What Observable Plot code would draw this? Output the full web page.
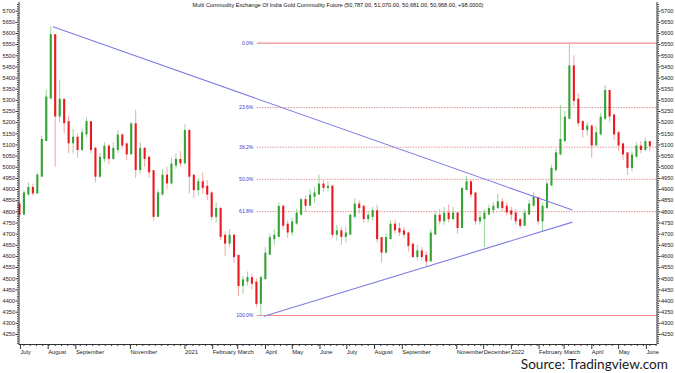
<!DOCTYPE html>
<html><head><meta charset="utf-8">
<script src="https://cdn.jsdelivr.net/npm/d3@7"></script>
<script src="https://cdn.jsdelivr.net/npm/@observablehq/plot@0.6"></script>
<style>
html,body{margin:0;padding:0;background:#fff}
body{width:675px;height:373px;overflow:hidden;position:relative;font-family:"Liberation Sans",Arial,sans-serif}
#source{position:absolute;right:7px;top:356px;font-family:Lato,sans-serif;font-size:13.6px;line-height:16px;color:#1a1a1a;white-space:nowrap}
</style></head><body>
<div id="chart"></div>
<div id="source">Source: Tradingview.com</div>
<script>
// ---- data (one candle per ~5 calendar days) ----
const startDate = "2020-07-01";
const stepDays = 5;
const firstOpen = 4830;
const closes = [4790,4880,4905,4885,4960,5120,5310,5590,5230,5300,5200,5110,5130,5080,5150,5200,5080,4960,5040,5090,
  5040,5080,5140,5100,5060,5190,4990,5080,5040,4980,4780,4880,4960,4930,5010,5030,5020,5160,4960,4900,
  4930,4910,4880,4780,4810,4690,4660,4690,4600,4470,4490,4500,4480,4390,4500,4610,4680,4690,4820,4740,
  4710,4750,4790,4850,4830,4870,4880,4920,4910,4910,4700,4710,4690,4700,4780,4830,4820,4770,4780,4800,
  4680,4620,4680,4740,4720,4710,4700,4650,4600,4620,4600,4580,4700,4780,4760,4790,4770,4790,4730,4900,
  4930,4880,4760,4770,4790,4810,4820,4840,4820,4800,4790,4760,4740,4790,4830,4860,4760,4820,4920,4990,
  5060,5120,5220,5450,5300,5200,5170,5180,5100,5150,5220,5340,5230,5150,5100,5060,5000,5050,5090,5080,
  5110,5097];
const highs = [4845,4895,4930,4925,4975,5140,5345,5630,5580,5390,5300,5230,5170,5150,5170,5220,5200,5090,5060,5110,
  5100,5110,5165,5150,5110,5200,5255,5110,5090,5050,4980,4900,4990,5000,5040,5060,5070,5190,5170,4960,
  4950,4975,4940,4890,4840,4820,4710,4720,4700,4600,4510,4530,4520,4500,4510,4640,4700,4720,4840,4830,
  4760,4770,4810,4860,4870,4900,4910,4965,4940,4935,4920,4740,4730,4730,4790,4860,4850,4830,4800,4820,
  4830,4680,4700,4760,4760,4750,4730,4710,4660,4650,4640,4620,4720,4800,4810,4820,4830,4820,4800,4910,
  4960,4940,4880,4800,4810,4830,4840,4880,4860,4840,4820,4810,4770,4810,4850,4885,4860,4840,4940,5010,
  5080,5277,5250,5555,5500,5330,5210,5200,5190,5180,5240,5367,5340,5230,5160,5110,5060,5070,5110,5115,
  5130,5107];
const lows = [4770,4785,4870,4870,4880,4960,5120,5400,5000,5200,5150,5060,5060,5040,5070,5130,5060,4930,4950,5020,
  5010,5030,5060,5080,5030,5060,4950,4970,5000,4950,4760,4780,4870,4900,4920,4990,5000,5010,4880,4860,
  4870,4880,4850,4760,4750,4670,4600,4640,4570,4420,4430,4470,4450,4370,4335,4540,4620,4650,4690,4720,
  4680,4690,4740,4780,4800,4830,4840,4890,4890,4890,4680,4670,4650,4660,4700,4770,4790,4750,4750,4760,
  4660,4570,4610,4680,4700,4690,4680,4620,4590,4580,4580,4555,4580,4700,4740,4740,4750,4760,4700,4730,
  4900,4860,4740,4740,4640,4790,4790,4810,4800,4780,4760,4740,4725,4740,4790,4820,4740,4708,4810,4920,
  4980,5050,5110,5220,5270,5180,5130,5140,5040,5120,5140,5210,5200,5120,5070,5030,4963,4980,5040,5060,
  5070,5068];

const monthTicks = ["2020-07-01","2020-08-01","2020-09-01","2020-11-01","2021-01-01","2021-02-01","2021-03-01",
  "2021-04-01","2021-05-01","2021-06-01","2021-07-01","2021-08-01","2021-09-01","2021-11-01","2021-12-01",
  "2022-01-01","2022-02-01","2022-03-01","2022-04-01","2022-05-01","2022-06-01"];
const monthLabels = ["July","August","September","November","2021","February","March","April","May","June",
  "July","August","September","November","December","2022","February","March","April","May","June"];
const priceTickStart = 4250, priceTickEnd = 5700, priceTickStep = 50;

const fibLabels = ["0.0%","23.6%","38.2%","50.0%","61.8%","100.0%"];
const fibLevels = [5557, 5268, 5090, 4946, 4801, 4335];
const fibStart = "2021-03-24";

const trendDates = [["2020-08-07","2022-03-11"],["2021-03-31","2022-03-11"]];
const trendPrices = [[5630, 4808],[4332, 4754]];

const titleText = "Multi Commodity Exchange Of India Gold Commodity Future (50,787.00, 51,070.00, 50,681.00, 50,968.00, +98.0000)";

// ---- build tables ----
const day = 864e5;
const t0 = new Date(startDate + "T00:00:00Z").getTime();
const candles = closes.map((c, i) => ({
  date: new Date(t0 + i * stepDays * day),
  open: i ? closes[i - 1] : firstOpen,
  high: highs[i], low: lows[i], close: c
}));
candles.forEach(d => d.up = d.close >= d.open);

const fib = fibLevels.map((v, i) => ({level: v, label: fibLabels[i], solid: i === 0 || i === fibLevels.length - 1}));
const trends = trendDates.map((d, i) => ({
  x1: new Date(d[0] + "T12:00:00Z"), x2: new Date(d[1] + "T12:00:00Z"),
  y1: trendPrices[i][0], y2: trendPrices[i][1]
}));
const xStart = new Date(Date.UTC(2020, 5, 30, 12));
const xEnd = new Date(Date.UTC(2022, 5, 14));
const fibStartDate = new Date(fibStart + "T00:00:00Z");
const monthDates = monthTicks.map(s => new Date(s + "T00:00:00Z"));
const labelOf = new Map(monthDates.map((d, i) => [d.getTime(), monthLabels[i]]));
const weekDates = d3.utcMonday.range(xStart, xEnd);
const priceTicks = d3.range(priceTickStart, priceTickEnd + 1, priceTickStep);
const minorPriceTicks = d3.range(4210, 5740, 10).filter(v => v % 50 !== 0);

const green = "#34a334", greenWick = "#9ad69a", red = "#ea1820", redWick = "#f4a6a6";
const axisColor = "#333";
const fs = 5.6;

const chart = Plot.plot({
  width: 675, height: 358,
  marginLeft: 18.5, marginRight: 18.5, marginTop: 2, marginBottom: 14,
  style: {fontFamily: "'Liberation Sans', Arial, sans-serif", background: "#fff", color: "#222"},
  x: {type: "utc", domain: [xStart, xEnd]},
  y: {domain: [4205, 5739]},
  marks: [
    // fibonacci levels
    Plot.ruleY(fib.filter(d => d.solid), {y: "level", x1: () => fibStartDate, x2: () => xEnd, stroke: "#ef8c8c", strokeWidth: 1.1}),
    Plot.ruleY(fib.filter(d => !d.solid), {y: "level", x1: () => fibStartDate, x2: () => xEnd, stroke: "#e88a8a", strokeWidth: 1, strokeDasharray: "1.3,1.3"}),
    Plot.text(fib, {x: () => fibStartDate, y: "level", text: "label", textAnchor: "end", dx: -4, fill: "#3a3ac8", fontSize: 5}),
    // candles
    Plot.ruleX(candles, {x: "date", y1: "low", y2: "high", stroke: d => d.up ? greenWick : redWick, strokeWidth: 1}),
    Plot.ruleX(candles, {x: "date", y1: "open", y2: "close", stroke: d => d.up ? green : red, strokeWidth: 2.1, strokeLinecap: "square"}),
    // triangle trend lines
    Plot.link(trends, {x1: "x1", y1: "y1", x2: "x2", y2: "y2", stroke: "#7d7de3", strokeWidth: 1.1}),
    // frame lines
    Plot.ruleX([xStart, xEnd], {stroke: axisColor, strokeWidth: 1}),
    Plot.ruleY([4205], {stroke: axisColor, strokeWidth: 1}),
    // axes
    Plot.axisY(priceTicks, {anchor: "left", tickSize: 3, tickPadding: 1, fontSize: fs, tickFormat: d3.format("d"), label: null, stroke: axisColor}),
    Plot.axisY(priceTicks, {anchor: "right", tickSize: 3, tickPadding: 1, fontSize: fs, tickFormat: d3.format("d"), label: null, stroke: axisColor}),
    Plot.axisY(minorPriceTicks, {anchor: "left", tickSize: 1.5, tickFormat: () => "", label: null, stroke: axisColor}),
    Plot.axisY(minorPriceTicks, {anchor: "right", tickSize: 1.5, tickFormat: () => "", label: null, stroke: axisColor}),
    Plot.axisX(weekDates, {anchor: "bottom", tickSize: 2, tickFormat: () => "", label: null, stroke: axisColor}),
    Plot.axisX(monthDates, {anchor: "bottom", tickSize: 5, tickPadding: 0, textAnchor: "start", dx: 1, fontSize: 5.8, tickFormat: d => labelOf.get(d.getTime()) ?? "", label: null, stroke: axisColor}),
    // title
    Plot.text([titleText], {frameAnchor: "top", dy: 1, fontSize: fs, fill: "#111"})
  ]
});
document.getElementById("chart").appendChild(chart);
</script>
</body></html>
